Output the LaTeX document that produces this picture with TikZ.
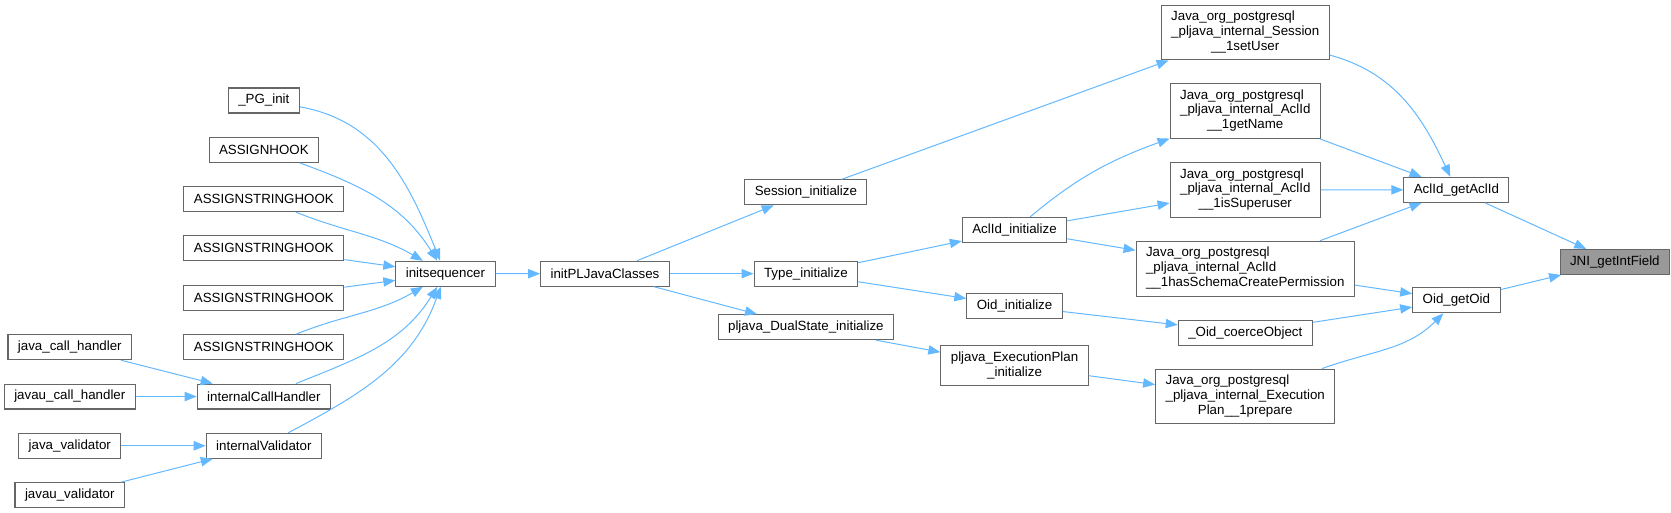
\documentclass[tikz,border=0pt]{standalone}
\usepackage{fontspec}
\setmainfont{Liberation Sans}
\usepackage{tikz}
\usetikzlibrary{arrows.meta}
\definecolor{edgeblue}{RGB}{99,184,255}
\definecolor{boxline}{RGB}{102,102,102}
\definecolor{rootfill}{RGB}{153,153,153}
\renewcommand{\arraystretch}{0.92}
\newcommand{\wrapname}[2]{\begin{tabular}{@{}l@{}}#1\\\multicolumn{1}{@{}c@{}}{#2}\end{tabular}}
\tikzset{
  func/.style={draw=boxline, line width=0.8pt, fill=white, inner xsep=7.5pt, inner ysep=4pt,
    minimum height=18.75pt, font=\fontsize{10}{12}\selectfont},
  funcroot/.style={func, fill=rootfill},
  call/.style={-{Triangle[length=9pt,width=7pt]}, draw=edgeblue, line width=0.75pt},
}

\begin{document}
\begin{tikzpicture}[x=0.8pt, y=-0.8pt]
    \useasboundingbox (0,0) rectangle (1568,481);
    % leftmost callers
    \node[func] (jcall) at (65.5,325.8) {java\_call\_handler};
    \node[func] (jucall) at (65.5,372.1) {javau\_call\_handler};
    \node[func] (jvalid) at (65.5,418.3) {java\_validator};
    \node[func] (juvalid) at (65.5,464.7) {javau\_validator};
    % hooks and handlers
    \node[func] (pginit) at (247.6,94.3) {\_PG\_init};
    \node[func] (ahook) at (247.6,140.6) {ASSIGNHOOK};
    \foreach \k/\yy in {1/186.9,2/233.0,3/279.5,4/325.8}
      \node[func] (ash\k) at (247.6,\yy) {ASSIGNSTRINGHOOK};
    \node[func] (icall) at (247.6,372.1) {internalCallHandler};
    \node[func] (ivalid) at (247.6,418.3) {internalValidator};
    % init chain
    \node[func] (iseq) at (418,256.9) {initsequencer};
    \node[func] (initpl) at (567.7,256.8) {initPLJavaClasses};
    \node[func] (sessinit) at (756.2,180.5) {Session\_initialize};
    \node[func] (typeinit) at (756.2,256.8) {Type\_initialize};
    \node[func] (dualinit) at (756.2,307) {pljava\_DualState\_initialize};
    \node[func] (aclinit) at (952,215.8) {AclId\_initialize};
    \node[func] (oidinit) at (952,287.1) {Oid\_initialize};
    \node[func] (execinit) at (952,343.3) {\wrapname{pljava\_ExecutionPlan}{\_initialize}};
    % JNI entry points
    \node[func] (setuser) at (1168.5,30.5)
      {\wrapname{Java\_org\_postgresql\\\_pljava\_internal\_Session}{\_\_1setUser}};
    \node[func] (getname) at (1168.5,104.2)
      {\wrapname{Java\_org\_postgresql\\\_pljava\_internal\_AclId}{\_\_1getName}};
    \node[func] (superuser) at (1168.5,178.3)
      {\wrapname{Java\_org\_postgresql\\\_pljava\_internal\_AclId}{\_\_1isSuperuser}};
    \node[func] (schema) at (1168.5,252.1)
      {\wrapname{Java\_org\_postgresql\\\_pljava\_internal\_AclId}{\_\_1hasSchemaCreatePermission}};
    \node[func] (coerce) at (1168.5,312.2) {\_Oid\_coerceObject};
    \node[func] (prepare) at (1168.5,372.1)
      {\wrapname{Java\_org\_postgresql\\\_pljava\_internal\_Execution}{Plan\_\_1prepare}};
    % getters and root
    \node[func] (getacl) at (1366.6,178.1) {AclId\_getAclId};
    \node[func] (getoid) at (1366.6,281.8) {Oid\_getOid};
    \node[funcroot] (jni) at (1515.3,245.8) {JNI\_getIntField};
    % edges into initsequencer
    \draw[call] (pginit) to[out=-10, in=112] (iseq);
    \draw[call] (ahook) to[out=-20, in=122] (iseq);
    \draw[call] (ash1) to[out=-22, in=150] (iseq);
    \draw[call] (ash2) -- (iseq);
    \draw[call] (ash3) -- (iseq);
    \draw[call] (ash4) to[out=22, in=-150] (iseq);
    \draw[call] (icall) to[out=22, in=-122] (iseq);
    \draw[call] (ivalid) to[out=28, in=-110] (iseq);
    \draw[call] (jcall) -- (icall);
    \draw[call] (jucall) -- (icall);
    \draw[call] (jvalid) -- (ivalid);
    \draw[call] (juvalid) -- (ivalid);
    % middle
    \draw[call] (iseq) -- (initpl);
    \foreach \t in {sessinit,typeinit,dualinit}
      \draw[call] (initpl) -- (\t);
    \draw[call] (sessinit) -- (setuser);
    \draw[call] (typeinit) -- (aclinit);
    \draw[call] (typeinit) -- (oidinit);
    \draw[call] (aclinit) to[out=40, in=-160] (getname);
    \draw[call] (aclinit) -- (superuser);
    \draw[call] (aclinit) -- (schema);
    \draw[call] (oidinit) -- (coerce);
    \draw[call] (dualinit) -- (execinit);
    \draw[call] (execinit) -- (prepare);
    % right side
    \draw[call] (setuser) to[out=-15, in=115] (getacl);
    \foreach \s in {getname,superuser,schema}
      \draw[call] (\s) -- (getacl);
    \draw[call] (schema) -- (getoid);
    \draw[call] (coerce) -- (getoid);
    \draw[call] (prepare) to[out=20, in=-135] (getoid);
    \draw[call] (getacl) -- (jni);
    \draw[call] (getoid) -- (jni);
  \end{tikzpicture}
\end{document}
